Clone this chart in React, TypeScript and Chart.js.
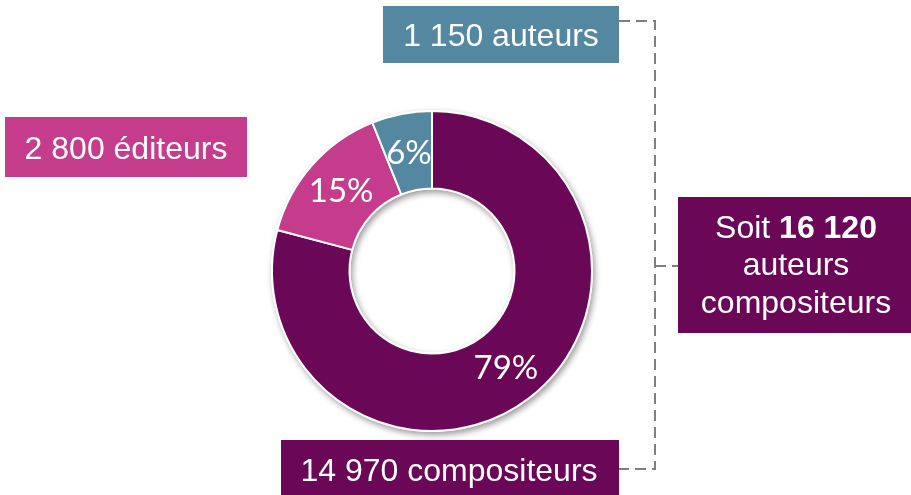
import { useEffect, useRef } from "react";
import { Chart, registerables } from "chart.js";

Chart.register(...registerables);

// ---- data ----
const categories = ["compositeurs", "éditeurs", "auteurs"];
const counts = [14970, 2800, 1150];
const boxLabels = ["14 970 compositeurs", "2 800 éditeurs", "1 150 auteurs"];
const totalPrefix = "Soit ";
const totalValue = "16 120";
const totalLines = ["auteurs", "compositeurs"];

// ---- styles ----
const COLORS = ["#6B0757", "#C43C8B", "#5487A0"];
const BOX_FONT = "32px 'Liberation Sans', Arial, sans-serif";
const BOX_FONT_BOLD = "bold 32px 'Liberation Sans', Arial, sans-serif";
const PCT_FONT = "33px Lato, 'Open Sans', sans-serif";

const shadowPlugin = {
  id: "ringShadow",
  beforeDatasetsDraw(chart: any) {
    const arc = chart.getDatasetMeta(0).data[0] as any;
    if (!arc) return;
    const { x, y, outerRadius, innerRadius } = arc.getProps(["x", "y", "outerRadius", "innerRadius"], true);
    const ctx = chart.ctx;
    ctx.save();
    ctx.shadowColor = "rgba(0,0,0,0.4)";
    ctx.shadowBlur = 6;
    ctx.shadowOffsetX = 2;
    ctx.shadowOffsetY = 3;
    ctx.beginPath();
    ctx.arc(x, y, outerRadius + 1, 0, Math.PI * 2);
    ctx.arc(x, y, innerRadius - 1, 0, Math.PI * 2, true);
    ctx.fillStyle = "#ffffff";
    ctx.fill();
    ctx.restore();
  },
};

const annotPlugin = {
  id: "annot",
  afterDraw(chart: any) {
    const ctx = chart.ctx as CanvasRenderingContext2D;
    const meta = chart.getDatasetMeta(0);
    const total = counts.reduce((a, b) => a + b, 0);

    // percentages inside slices
    ctx.save();
    ctx.font = PCT_FONT;
    ctx.fillStyle = "#ffffff";
    ctx.textAlign = "center";
    ctx.textBaseline = "middle";
    meta.data.forEach((el: any, i: number) => {
      const p = el.tooltipPosition();
      const pct = Math.round((counts[i] / total) * 100) + "%";
      ctx.fillText(pct, p.x, p.y + 1);
    });
    ctx.restore();

    // dashed bracket
    ctx.save();
    ctx.strokeStyle = "#7f7f7f";
    ctx.lineWidth = 2;
    ctx.setLineDash([11, 6]);
    ctx.beginPath();
    ctx.moveTo(619, 21);
    ctx.lineTo(655, 21);
    ctx.lineTo(655, 469);
    ctx.lineTo(619, 469);
    ctx.stroke();
    ctx.beginPath();
    ctx.moveTo(655, 266);
    ctx.lineTo(678, 266);
    ctx.stroke();
    ctx.restore();

    const box = (x: number, y: number, w: number, h: number, color: string) => {
      ctx.fillStyle = color;
      ctx.fillRect(x, y, w, h);
    };

    ctx.save();
    ctx.textAlign = "center";
    ctx.textBaseline = "alphabetic";
    // auteurs (top)
    box(383, 6, 236, 57, COLORS[2]);
    ctx.fillStyle = "#ffffff";
    ctx.font = BOX_FONT;
    ctx.fillText(boxLabels[2], 501, 46);
    // éditeurs (left)
    box(5, 117, 242, 60, COLORS[1]);
    ctx.fillStyle = "#ffffff";
    ctx.fillText(boxLabels[1], 126, 159);
    // compositeurs (bottom)
    box(281, 440, 338, 55, COLORS[0]);
    ctx.fillStyle = "#ffffff";
    ctx.fillText(boxLabels[0], 449, 481);

    // total box (right)
    box(678, 197, 233, 136, COLORS[0]);
    ctx.fillStyle = "#ffffff";
    const cx = 796;
    ctx.font = BOX_FONT;
    const w1 = ctx.measureText(totalPrefix).width;
    ctx.font = BOX_FONT_BOLD;
    const w2 = ctx.measureText(totalValue).width;
    const start = cx - (w1 + w2) / 2;
    ctx.textAlign = "left";
    ctx.font = BOX_FONT;
    ctx.fillText(totalPrefix, start, 238);
    ctx.font = BOX_FONT_BOLD;
    ctx.fillText(totalValue, start + w1, 238);
    ctx.textAlign = "center";
    ctx.font = BOX_FONT;
    ctx.fillText(totalLines[0], cx, 275);
    ctx.fillText(totalLines[1], cx, 313);
    ctx.restore();
  },
};

export default function App() {
  const ref = useRef<HTMLCanvasElement>(null);
  useEffect(() => {
    if (!ref.current) return;
    const chart = new Chart(ref.current, {
      type: "doughnut",
      data: {
        labels: categories,
        datasets: [
          {
            data: counts,
            backgroundColor: COLORS,
            borderColor: "#ffffff",
            borderWidth: 2,
          },
        ],
      },
      options: {
        responsive: false,
        animation: false,
        radius: 160,
        cutout: 82,
        layout: { padding: { left: 272, right: 319, top: 111, bottom: 64 } },
        plugins: {
          legend: { display: false },
          tooltip: { enabled: false },
        },
      } as any,
      plugins: [shadowPlugin, annotPlugin],
    });
    return () => chart.destroy();
  }, []);
  return (
    <div style={{ position: "fixed", left: 0, top: 0, width: 911, height: 495, background: "#fff" }}>
      <canvas ref={ref} width={911} height={495} style={{ display: "block", width: 911, height: 495 }} />
    </div>
  );
}
